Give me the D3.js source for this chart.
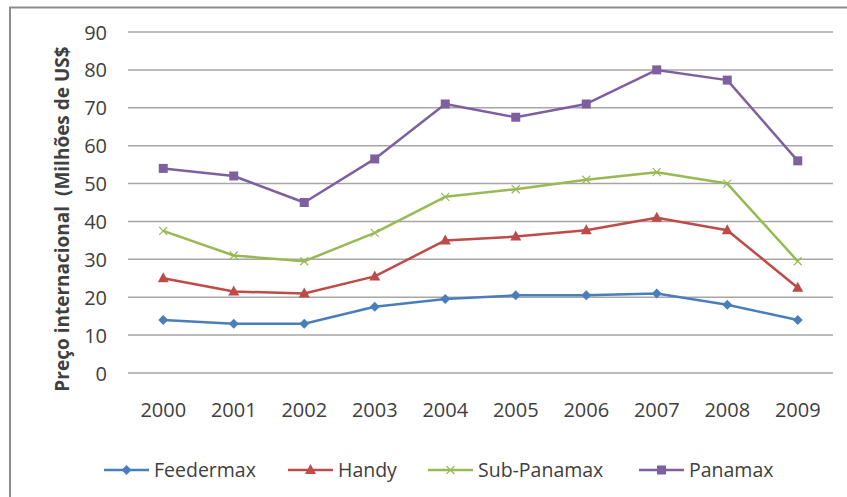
<!DOCTYPE html>
<html>
<head>
<meta charset="utf-8">
<script src="https://cdn.jsdelivr.net/npm/d3@7"></script>
<style>
  html, body { margin: 0; padding: 0; background: #fff; }
  svg { display: block; }
  text { font-family: "Open Sans", sans-serif; fill: #404040; }
</style>
</head>
<body>
<svg id="chart" width="847" height="497"></svg>
<script>
// Ship price series (millions of US$), 2000–2009
const years = ["2000","2001","2002","2003","2004","2005","2006","2007","2008","2009"];
const feedermax  = [14, 13, 13, 17.5, 19.5, 20.5, 20.5, 21, 18, 14];
const handy      = [25, 21.5, 21, 25.5, 35, 36, 37.7, 41, 37.7, 22.5];
const subPanamax = [37.5, 31, 29.5, 37, 46.5, 48.5, 51, 53, 50, 29.5];
const panamax    = [54, 52, 45, 56.5, 71, 67.5, 71, 80, 77.3, 56];
const yTicks = [0, 10, 20, 30, 40, 50, 60, 70, 80, 90];
const yTitle = "Preço internacional  (Milhões de US$";

const series = [
  { name: "Feedermax",   values: feedermax,  color: "#4a7ebb", marker: "diamond" },
  { name: "Handy",       values: handy,      color: "#be4b48", marker: "triangle" },
  { name: "Sub-Panamax", values: subPanamax, color: "#98b954", marker: "cross" },
  { name: "Panamax",     values: panamax,    color: "#7d60a0", marker: "square" }
];

const svg = d3.select("#chart");

// outer chart frame
svg.append("rect")
  .attr("x", 10).attr("y", 7.5)
  .attr("width", 900).attr("height", 600)
  .attr("fill", "none").attr("stroke", "#8c8c8c").attr("stroke-width", 2);

const x = d3.scaleBand().domain(years).range([128, 833]);
const y = d3.scaleLinear().domain([0, 90]).range([373, 32]);

// horizontal gridlines
svg.append("g").selectAll("line").data(yTicks).join("line")
  .attr("x1", 128).attr("x2", 833)
  .attr("y1", d => y(d)).attr("y2", d => y(d))
  .attr("stroke", "#a6a6a6").attr("stroke-width", 1.5);

// y axis labels
const yAxis = d3.axisLeft(y).tickValues(yTicks).tickSize(0).tickPadding(0);
const gy = svg.append("g").attr("transform", "translate(107,0)").call(yAxis);
gy.select(".domain").remove();
gy.selectAll("text").attr("font-size", 20).attr("font-family", "Open Sans, sans-serif")
  .attr("fill", "#404040").attr("dy", "0.35em");

// x axis labels
const xAxis = d3.axisBottom(x).tickSize(0).tickPadding(0);
const gx = svg.append("g").attr("transform", "translate(0,410)").call(xAxis);
gx.select(".domain").remove();
gx.selectAll("text").attr("font-size", 20).attr("font-family", "Open Sans, sans-serif")
  .attr("fill", "#404040").attr("dy", "0.35em");

// y axis title
svg.append("text")
  .attr("transform", "translate(62,219) rotate(-90)")
  .attr("text-anchor", "middle").attr("dy", "0.35em")
  .attr("font-size", 19).attr("font-weight", "bold")
  .style("white-space", "pre")
  .attr("fill", "#262626")
  .text(yTitle);

function drawMarker(g, type, color, cx, cy) {
  if (type === "diamond") {
    g.append("path").attr("d", `M${cx},${cy-5}L${cx+5},${cy}L${cx},${cy+5}L${cx-5},${cy}Z`)
      .attr("fill", color);
  } else if (type === "triangle") {
    g.append("path").attr("d", `M${cx},${cy-6}L${cx+5.5},${cy+4}L${cx-5.5},${cy+4}Z`)
      .attr("fill", color);
  } else if (type === "square") {
    g.append("rect").attr("x", cx-4.5).attr("y", cy-4.5).attr("width", 9).attr("height", 9)
      .attr("fill", color);
  } else if (type === "cross") {
    g.append("path").attr("d", `M${cx-4},${cy-4}L${cx+4},${cy+4}M${cx-4},${cy+4}L${cx+4},${cy-4}`)
      .attr("stroke", color).attr("stroke-width", 1.2).attr("fill", "none");
  }
}

const line = d3.line()
  .x((d, i) => x(years[i]) + x.bandwidth() / 2)
  .y(d => y(d));

series.forEach(s => {
  const g = svg.append("g");
  g.append("path").datum(s.values)
    .attr("d", line)
    .attr("fill", "none").attr("stroke", s.color).attr("stroke-width", 2.5)
    .attr("stroke-linejoin", "round");
  s.values.forEach((v, i) => drawMarker(g, s.marker, s.color, x(years[i]) + x.bandwidth() / 2, y(v)));
});

// legend
const legendPos = [104, 288, 428, 639];
series.forEach((s, i) => {
  const g = svg.append("g");
  const lx = legendPos[i], ly = 470;
  g.append("line").attr("x1", lx).attr("x2", lx + 45).attr("y1", ly).attr("y2", ly)
    .attr("stroke", s.color).attr("stroke-width", 2.5);
  drawMarker(g, s.marker, s.color, lx + 22.5, ly);
  g.append("text").attr("x", lx + 50).attr("y", ly).attr("dy", "0.35em")
    .attr("font-size", 19.5).attr("fill", "#404040").text(s.name);
});
</script>
</body>
</html>
